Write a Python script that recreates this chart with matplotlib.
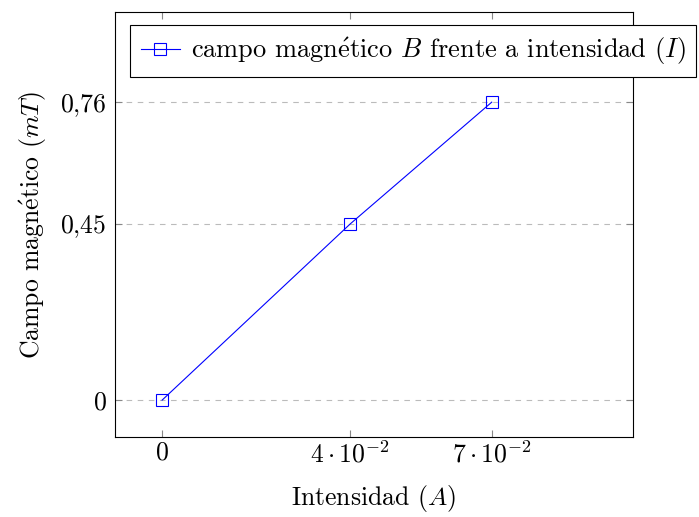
import matplotlib.pyplot as plt

plt.rcParams['font.family'] = ['cmr10', 'DejaVu Serif']
plt.rcParams['mathtext.fontset'] = 'cm'
plt.rcParams['axes.formatter.use_mathtext'] = True
plt.rcParams['axes.unicode_minus'] = False

intensidad = [0.0, 0.04, 0.07]
campo = [0.0, 0.45, 0.76]
xtick_labels = ['$0$', r'$4\cdot10^{-2}$', r'$7\cdot10^{-2}$']
ytick_labels = ['$0$', '$0{,}45$', '$0{,}76$']

e_acute = r'$\acute{\mathrm{e}}$'

fig = plt.figure(figsize=(6.99, 5.17), dpi=100)
ax = fig.add_axes([115 / 699, 1 - 437 / 517, (633 - 115) / 699, (437 - 12) / 517])

ax.plot(intensidad, campo, color='blue', lw=0.8, marker='s', markersize=8.5,
        markerfacecolor='none', markeredgecolor='blue', markeredgewidth=0.8,
        label='campo magn' + e_acute + r'tico $B$ frente a intensidad $(I)$')

ax.set_xlim(-0.01, 0.10)
ax.set_ylim(-0.094, 0.99)
ax.set_xticks(intensidad)
ax.set_xticklabels(xtick_labels)
ax.set_yticks(campo)
ax.set_yticklabels(ytick_labels)
ax.tick_params(direction='in', top=True, right=True, length=5, width=0.8,
               color='#888888', labelsize=18.5)
ax.tick_params(axis='x', pad=3)
ax.tick_params(axis='y', pad=6)
ax.yaxis.grid(True, linestyle=(0, (5, 5)), color='#bbbbbb', lw=0.8)
for s in ax.spines.values():
    s.set_linewidth(0.8)

ax.set_xlabel('Intensidad $(A)$', fontsize=18.5, labelpad=11)
ax.set_ylabel('Campo magn' + e_acute + 'tico $(mT)$', fontsize=18.5, labelpad=8)

leg = ax.legend(loc='upper left', bbox_to_anchor=(130 / 699, 1 - 25 / 517),
                bbox_transform=fig.transFigure, fontsize=19, fancybox=False,
                framealpha=1, edgecolor='black', borderpad=0.4, borderaxespad=0,
                handlelength=1.5, handletextpad=0.4)
leg.get_frame().set_linewidth(0.8)

fig.savefig('out.png', dpi=100)
